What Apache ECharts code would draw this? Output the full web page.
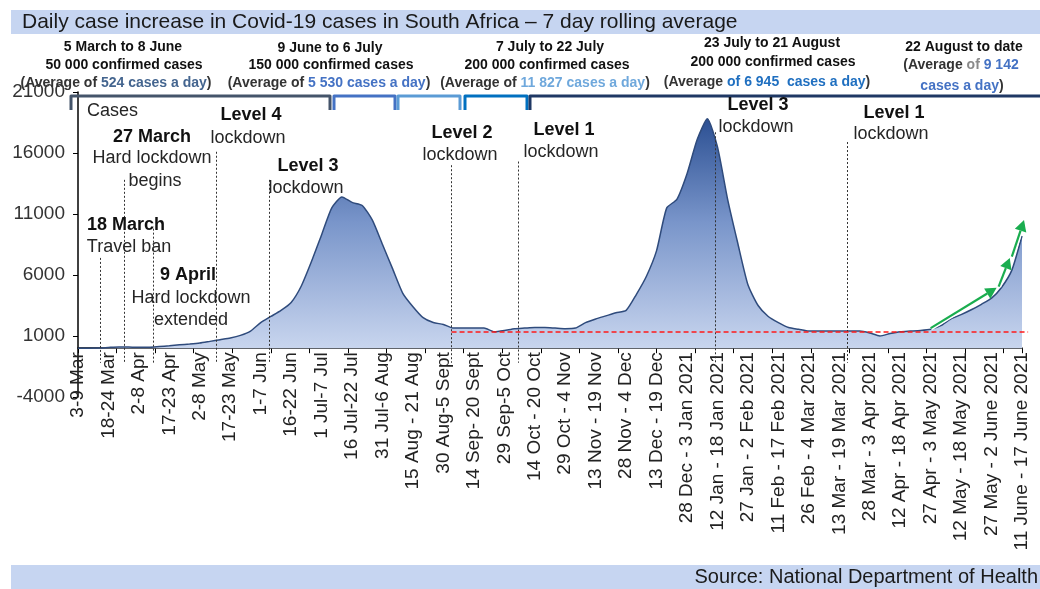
<!DOCTYPE html>
<html>
<head>
<meta charset="utf-8">
<script src="https://cdn.jsdelivr.net/npm/echarts@6/dist/echarts.min.js"></script>
<style>
  html, body { margin: 0; padding: 0; background: #fff; }
  #chart { width: 1040px; height: 589px; }
</style>
</head>
<body>
<div id="chart"></div>
<script>
const FONT = '"Liberation Sans", Arial, sans-serif'

// x axis: days since 3 March 2020, a label every 15 days
const weekLabels = [
  '3-9 Mar', '18-24 Mar', '2-8 Apr', '17-23 Apr', '2-8 May', '17-23 May', '1-7 Jun', '16-22 Jun',
  '1 Jul-7 Jul', '16 Jul-22 Jul', '31 Jul-6 Aug', '15 Aug - 21 Aug', '30 Aug-5 Sept', '14 Sep- 20 Sept',
  '29 Sep-5 Oct', '14 Oct - 20 Oct', '29 Oct - 4 Nov', '13 Nov - 19 Nov', '28 Nov - 4 Dec',
  '13 Dec - 19 Dec', '28 Dec - 3 Jan 2021', '12 Jan - 18 Jan 2021', '27 Jan - 2 Feb 2021',
  '11 Feb - 17 Feb 2021', '26 Feb - 4 Mar 2021', '13 Mar - 19 Mar 2021', '28 Mar - 3 Apr 2021',
  '12 Apr - 18 Apr 2021', '27 Apr - 3 May 2021', '12 May - 18 May 2021', '27 May - 2 June 2021',
  '11 June - 17 June 2021'
]

const sampleDays = [
  0, 5, 10, 15, 20, 25, 30, 35, 40, 45,
  50, 55, 60, 65, 70, 75, 80, 85, 90, 95,
  100, 105, 110, 115, 120, 125, 130, 135, 140, 145,
  150, 155, 160, 165, 170, 175, 180, 185, 190, 195,
  200, 205, 210, 215, 220, 225, 230, 235, 240, 245,
  250, 255, 260, 265, 270, 275, 280, 285, 290, 295,
  300, 305, 310, 315, 320, 325, 330, 335, 340, 345,
  350, 355, 360, 365, 370, 375, 380, 385, 390, 395,
  400, 405, 410, 415, 420, 425, 430, 435, 440, 445,
  450, 455, 460, 465
]
const rollingAvg = [
  0, 5, 15, 60, 100, 90, 70, 80, 140, 200,
  280, 340, 420, 560, 700, 840, 1050, 1400, 2100, 2600,
  3100, 3750, 5100, 7100, 9300, 11500, 12400, 11950, 11700, 10500,
  8500, 6500, 4500, 3400, 2500, 2100, 1950, 1650, 1650, 1650,
  1650, 1350, 1450, 1600, 1650, 1700, 1700, 1650, 1600, 1650,
  2100, 2400, 2650, 2900, 3100, 4400, 5900, 8000, 11500, 12200,
  14300, 17100, 18800, 16500, 12200, 8600, 5200, 3500, 2600, 2100,
  1700, 1550, 1400, 1400, 1400, 1400, 1400, 1400, 1250, 1000,
  1200, 1350, 1400, 1450, 1550, 1850, 2400, 2750, 3150, 3600,
  4100, 5000, 6400, 9200
]

// dotted event lines: day and top of line
const eventDays = [11, 23, 37, 68, 94, 184, 217, 314, 379]
const eventTops = [7400, 13800, 9800, 16100, 13800, 15000, 15300, 17700, 16900]
const eventBottom = -1200

// red reference level and green trend arrows (day, cases)
const refLevel = { from: 184, to: 468, value: 1330 }
const trendArrows = [
  [[420, 1650], [452.5, 4950]],
  [[453.5, 5050], [459, 7400]],
  [[460, 7500], [466, 10500]]
]

const Y_MIN = -4000, Y_MAX = 21000
const GRID = { left: 78, right: 18, top: 92, bottom: 192 }
// x axis sits on the zero line, not on the grid bottom
const zeroOffset = -(0 - Y_MIN) / (Y_MAX - Y_MIN) * (589 - GRID.top - GRID.bottom)

const chart = echarts.init(document.getElementById('chart'))

function txt(x, y, text, bold, size, align) {
  return {
    type: 'text', x: x, y: y, z: 100, silent: true,
    style: {
      text: text, align: align || 'center', verticalAlign: 'middle',
      fontFamily: FONT, fontSize: size || 18, fontWeight: bold ? 'bold' : 'normal',
      fill: bold ? '#111' : '#262626'
    }
  }
}

function richTxt(x, y, text, rich) {
  const base = { fontFamily: FONT, fontSize: 14, fontWeight: 'bold' }
  const r = {}
  Object.keys(rich).forEach(k => { r[k] = Object.assign({}, base, { fill: rich[k] }) })
  return {
    type: 'text', x: x, y: y, z: 100, silent: true,
    style: Object.assign({ text: text, align: 'center', verticalAlign: 'middle', rich: r, fill: '#333' }, base)
  }
}

function bracket(points, color) {
  return { type: 'polyline', z: 100, silent: true, shape: { points: points },
    style: { stroke: color, lineWidth: 3, fill: null, lineJoin: 'round' } }
}

const staticGraphics = [
  { type: 'rect', silent: true, shape: { x: 11, y: 10, width: 1029, height: 24 }, style: { fill: '#c6d5f1' } },
  { type: 'text', x: 22, y: 22, z: 100, silent: true, style: { text: 'Daily case increase in Covid-19 cases in South Africa \u2013 7 day rolling average',
      fontFamily: FONT, fontSize: 21, fill: '#1a1a1a', verticalAlign: 'middle' } },
  { type: 'rect', silent: true, shape: { x: 11, y: 565, width: 1029, height: 24 }, style: { fill: '#c6d5f1' } },
  { type: 'text', x: 1038, y: 577, z: 100, silent: true, style: { text: 'Source: National Department of Health',
      fontFamily: FONT, fontSize: 20, fill: '#1a1a1a', align: 'right', verticalAlign: 'middle' } },

  // period notes
  txt(123, 47, '5 March to 8 June', true, 14),
  txt(124, 65, '50 000 confirmed cases', true, 14),
  richTxt(116, 83, '{a|(Average of }{b|524 cases a day}{a|)}', { a: '#333', b: '#44658f' }),
  txt(330, 48, '9 June to 6 July', true, 14),
  txt(331, 65, '150 000 confirmed cases', true, 14),
  richTxt(329, 83, '{a|(Average of }{b|5 530 cases a day}{a|)}', { a: '#333', b: '#4472c4' }),
  txt(550, 47, '7 July to 22 July', true, 14),
  txt(547, 65, '200 000 confirmed cases', true, 14),
  richTxt(545, 83, '{a|(Average of }{b|11 827 cases a day}{a|)}', { a: '#333', b: '#6fa8dc' }),
  txt(772, 43, '23 July to 21 August', true, 14),
  txt(773, 62, '200 000 confirmed cases', true, 14),
  richTxt(767, 82, '{a|(Average }{b|of 6 945  cases a day}{a|)}', { a: '#333', b: '#1f6fc0' }),
  txt(964, 47, '22 August to date', true, 14),
  richTxt(961, 65, '{a|(Average }{g|of }{b|9 142}', { a: '#333', g: '#8a8a8a', b: '#4472c4' }),
  richTxt(962, 86, '{b|cases a day}{a|)}', { a: '#333', b: '#4472c4' }),

  // brackets over the periods
  bracket([[71, 110], [71, 96], [330, 96], [330, 110]], '#44546a'),
  bracket([[334, 110], [334, 96], [395, 96], [395, 110]], '#4472c4'),
  bracket([[398, 110], [398, 96], [460, 96], [460, 110]], '#5b9bd5'),
  bracket([[465, 110], [465, 96], [527, 96], [527, 110]], '#0070c0'),
  bracket([[530, 110], [530, 96], [1040, 96]], '#1f3864'),

  // event notes
  txt(87, 111, 'Cases', false, 18, 'left'),
  txt(152, 137, '27 March', true),
  txt(152, 158, 'Hard lockdown'),
  txt(155, 181, 'begins'),
  txt(251, 115, 'Level 4', true),
  txt(248, 138, 'lockdown'),
  txt(308, 166, 'Level 3', true),
  txt(306, 188, 'lockdown'),
  txt(126, 225, '18 March', true),
  txt(129, 247, 'Travel ban'),
  txt(188, 275, '9 April', true),
  txt(191, 298, 'Hard lockdown'),
  txt(191, 320, 'extended'),
  txt(462, 133, 'Level 2', true),
  txt(460, 155, 'lockdown'),
  txt(564, 130, 'Level 1', true),
  txt(561, 152, 'lockdown'),
  txt(758, 105, 'Level 3', true),
  txt(756, 127, 'lockdown'),
  txt(894, 113, 'Level 1', true),
  txt(891, 134, 'lockdown')
]

const option = {
  animation: false,
  backgroundColor: '#fff',
  grid: Object.assign({ containLabel: false, outerBoundsMode: 'none' }, GRID),
  xAxis: [
    {
      type: 'value', min: 0, max: 465, interval: 15, position: 'bottom', offset: zeroOffset,
      axisLine: { show: true, onZero: false, lineStyle: { color: '#000', width: 1.5 } },
      axisTick: { show: false },
      splitLine: { show: false },
      axisLabel: {
        rotate: 90, margin: 4, fontSize: 19, fontFamily: FONT, color: '#222',
        formatter: v => weekLabels[Math.round(v / 15)] || ''
      }
    },
    {
      // tick marks follow their own spacing in the original
      type: 'value', min: 0, max: 465, interval: 19, position: 'bottom', offset: zeroOffset,
      axisLine: { show: false, onZero: false },
      axisTick: { show: true, length: 5, lineStyle: { color: '#000', width: 1 } },
      axisLabel: { show: false },
      splitLine: { show: false }
    }
  ],
  yAxis: {
    type: 'value', min: Y_MIN, max: Y_MAX, interval: 5000,
    axisLine: { show: true, lineStyle: { color: '#000', width: 1.5 } },
    axisTick: { show: true, length: 5, lineStyle: { color: '#000' } },
    splitLine: { show: false },
    axisLabel: { margin: 13, fontSize: 19, fontFamily: FONT, color: '#333', formatter: v => String(v) }
  },
  series: [
    {
      type: 'line',
      data: sampleDays.map((d, i) => [d, rollingAvg[i]]),
      symbol: 'none',
      smooth: 0.2,
      lineStyle: { color: '#2f4b7c', width: 1.5 },
      areaStyle: {
        opacity: 1,
        color: new echarts.graphic.LinearGradient(0, 0, 0, 1, [
          { offset: 0, color: '#2c5093' },
          { offset: 0.45, color: '#7995ca' },
          { offset: 1, color: '#c8d5ee' }
        ])
      },
      markLine: {
        silent: true,
        symbol: 'none',
        label: { show: false },
        lineStyle: { color: '#333', type: [2, 2], width: 1 },
        data: eventDays.map((d, i) => [{ coord: [d, eventTops[i]] }, { coord: [d, eventBottom] }])
      }
    }
  ],
  graphic: staticGraphics
}

chart.setOption(option)

// annotations placed from data values through the chart's own scales
const px = p => chart.convertToPixel({ xAxisIndex: 0, yAxisIndex: 0 }, p)
const extra = []
const r0 = px([refLevel.from, refLevel.value])
const r1 = px([refLevel.to, refLevel.value])
extra.push({ type: 'line', z: 100, silent: true, shape: { x1: r0[0], y1: r0[1], x2: r1[0], y2: r1[1] },
  style: { stroke: '#ff1a1a', lineWidth: 1.5, lineDash: [5, 3] } })

trendArrows.forEach(seg => {
  const a = px(seg[0]), b = px(seg[1])
  const dx = b[0] - a[0], dy = b[1] - a[1]
  const len = Math.hypot(dx, dy), ux = dx / len, uy = dy / len
  const hl = 11, hw = 6
  const base = [b[0] - ux * hl, b[1] - uy * hl]
  extra.push({ type: 'line', z: 100, silent: true, shape: { x1: a[0], y1: a[1], x2: base[0], y2: base[1] },
    style: { stroke: '#fff', lineWidth: 5 } })
  extra.push({ type: 'line', z: 101, silent: true, shape: { x1: a[0], y1: a[1], x2: base[0], y2: base[1] },
    style: { stroke: '#1aad4f', lineWidth: 2.2 } })
  extra.push({ type: 'polygon', z: 101, silent: true, shape: { points: [b, [base[0] - uy * hw, base[1] + ux * hw], [base[0] + uy * hw, base[1] - ux * hw]] },
    style: { fill: '#1aad4f' } })
})

chart.setOption({ graphic: staticGraphics.concat(extra) })
</script>
</body>
</html>
